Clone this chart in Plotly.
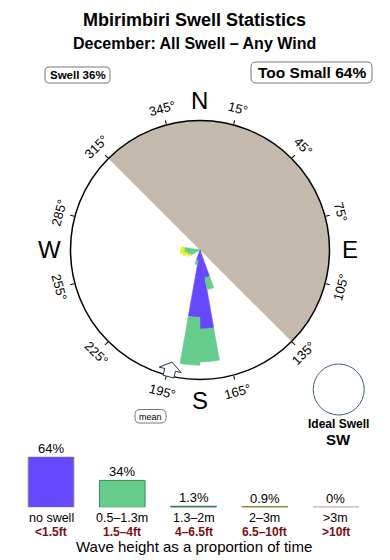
import math
import plotly.graph_objects as go

W, H = 390, 560
FONT = "Liberation Sans, Arial, Helvetica, sans-serif"

# ---------------- data ----------------
title_text = "Mbirimbiri Swell Statistics"
subtitle_text = "December: All Swell – Any Wind"
swell_pct = 36
too_small_pct = 64
ideal_dir = "SW"
mean_dir = 194

rose_dirs = [165, 175, 185, 195, 245, 255, 265, 275]
rose_no_swell = [21.5, 61, 52, 8, 0, 0, 0, 0]
rose_h1 = [9.5, 25.5, 37, 3.5, 8, 10, 11, 12]      # 0.5-1.3m
rose_h2 = [0, 0, 0, 0, 0, 0, 2, 0]                 # 1.3-2m
rose_h3 = [0, 0, 0, 0, 2.5, 3.5, 2.5, 2.5]         # 2-3m
bin_width = 10

too_small_theta = 45
too_small_width = 180

compass_ticks = [15, 45, 75, 105, 135, 165, 195, 225, 255, 285, 315, 345]
cardinal_names = ["N", "E", "S", "W"]
cardinal_dirs = [0, 90, 180, 270]

legend_cats = ["no swell", "0.5–1.3m", "1.3–2m", "2–3m", ">3m"]
legend_feet = ["<1.5ft", "1.5–4ft", "4–6.5ft", "6.5–10ft", ">10ft"]
legend_pct = [64, 34, 1.3, 0.9, 0]
legend_text = ["64%", "34%", "1.3%", "0.9%", "0%"]

# ---------------- styles ----------------
C_BLUE = "#6649ff"
C_GREEN = "#66cc8c"
C_LIME = "#99dd44"
C_YELLOW = "#eeee33"
C_LAND = "#c4b9ad"
legend_fill = [C_BLUE, C_GREEN, "#2e7d4f", "#8c9b3a", "#c9b4b4"]
legend_edge = ["#808080", "#3a8a5a", "#2e7d4f", "#7d8c30", "#c9b4b4"]

CX, CY, R = 200.0, 250.0, 129.5   # compass geometry in pixels
RMAX = 100.0


def X(px):
    return px / W


def Y(py):
    return 1 - py / H


def ann(text, x, y, size, color="black", angle=0, xanchor="center"):
    return dict(x=X(x), y=Y(y), xref="paper", yref="paper", text=text,
                showarrow=False, textangle=angle, xanchor=xanchor, yanchor="middle",
                font=dict(family=FONT, size=size, color=color))


def polar_px(r_px, deg):
    t = math.radians(deg)
    return CX + r_px * math.sin(t), CY - r_px * math.cos(t)


def rounded_rect(x0, y0, x1, y1, r):
    pts = [
        ("M", [(x0 + r, y0)]), ("L", [(x1 - r, y0)]), ("Q", [(x1, y0), (x1, y0 + r)]),
        ("L", [(x1, y1 - r)]), ("Q", [(x1, y1), (x1 - r, y1)]), ("L", [(x0 + r, y1)]),
        ("Q", [(x0, y1), (x0, y1 - r)]), ("L", [(x0, y0 + r)]), ("Q", [(x0, y0), (x0 + r, y0)]),
    ]
    s = ""
    for cmd, ps in pts:
        s += cmd + " " + " ".join(f"{X(a):.5f},{Y(b):.5f}" for a, b in ps) + " "
    return s + "Z"


fig = go.Figure()

# too-small half disc
fig.add_trace(go.Barpolar(r=[RMAX], theta=[too_small_theta], width=[too_small_width],
                          marker=dict(color=C_LAND, line=dict(width=0)),
                          hoverinfo="skip", showlegend=False))
# rose petals (stacked)
for vals, col in [(rose_no_swell, C_BLUE), (rose_h1, C_GREEN), (rose_h2, C_LIME), (rose_h3, C_YELLOW)]:
    fig.add_trace(go.Barpolar(r=vals, theta=rose_dirs, width=[bin_width] * len(rose_dirs),
                              marker=dict(color=col, line=dict(color=col, width=0.5)),
                              hoverinfo="skip", showlegend=False))

# legend bars
fig.add_trace(go.Bar(x=list(range(len(legend_pct))), y=legend_pct, xaxis="x2", yaxis="y2",
                     width=0.64, marker=dict(color=legend_fill, line=dict(color=legend_edge, width=1)),
                     hoverinfo="skip", showlegend=False))

annotations = []
shapes = []

# titles
annotations.append(ann(f"<b>{title_text}</b>", 194, 20, 18))
annotations.append(ann(f"<b>{subtitle_text}</b>", 194, 44, 16))

# swell / too small boxes
shapes.append(dict(type="path", path=rounded_rect(45, 67, 110, 83, 4), xref="paper", yref="paper",
                   line=dict(color="#777", width=1), fillcolor="white", layer="above"))
annotations.append(ann(f"<b>Swell {swell_pct}%</b>", 77.5, 75.5, 11.5))
shapes.append(dict(type="path", path=rounded_rect(251, 62, 372, 83, 5), xref="paper", yref="paper",
                   line=dict(color="#777", width=1), fillcolor="white", layer="above"))
annotations.append(ann(f"<b>Too Small {too_small_pct}%</b>", 311.5, 73, 15.5))

# cardinal letters
for name, d in zip(cardinal_names, cardinal_dirs):
    x, y = polar_px(150, d)
    annotations.append(ann(name, x, y, 24))

# degree labels (tangential)
for d in compass_ticks:
    x, y = polar_px(146, d)
    if d < 90:
        a = d
    elif d < 270:
        a = d - 180
    else:
        a = d - 360
    annotations.append(ann(f"{d}°", x, y, 13, angle=a))

# mean direction arrow (pointing inward)
local = [(115.5, 0), (123.5, 11.3), (123.5, 5.5), (130.5, 5.5), (130.5, -5.5), (123.5, -5.5), (123.5, -11.3)]
t = math.radians(mean_dir)
ux, uy = math.sin(t), -math.cos(t)
vx, vy = math.cos(t), math.sin(t)
pts = [(CX + a * ux + b * vx, CY + a * uy + b * vy) for a, b in local]
path = "M " + " L ".join(f"{X(px):.5f},{Y(py):.5f}" for px, py in pts) + " Z"
shapes.append(dict(type="path", path=path, xref="paper", yref="paper",
                   line=dict(color="#223355", width=1), fillcolor="white", layer="above"))
shapes.append(dict(type="path", path=rounded_rect(135, 409.5, 166, 423, 5), xref="paper", yref="paper",
                   line=dict(color="#777", width=1), fillcolor="white", layer="above"))
annotations.append(ann("mean", 150.5, 416.5, 9))

# ideal swell
icx, icy, ir = 338.7, 389.5, 25.5
shapes.append(dict(type="circle", xref="paper", yref="paper", x0=X(icx - ir), x1=X(icx + ir),
                   y0=Y(icy + ir), y1=Y(icy - ir), line=dict(color="#3d5a80", width=1)))
annotations.append(ann("<b>Ideal Swell</b>", 338.5, 423.5, 12))
annotations.append(ann(f"<b>{ideal_dir}</b>", 338.5, 439, 15))

# legend labels
for i, (cat, ft, txt, v) in enumerate(zip(legend_cats, legend_feet, legend_text, legend_pct)):
    annotations.append(dict(x=i, y=v, xref="x2", yref="y2", text=txt, showarrow=False,
                            xanchor="center", yanchor="bottom", yshift=-1,
                            font=dict(family=FONT, size=13, color="black")))
    annotations.append(dict(x=i, y=Y(518), xref="x2", yref="paper", text=cat, showarrow=False,
                            xanchor="center", yanchor="middle",
                            font=dict(family=FONT, size=12.5, color="black")))
    annotations.append(dict(x=i, y=Y(531.5), xref="x2", yref="paper", text=f"<b>{ft}</b>", showarrow=False,
                            xanchor="center", yanchor="middle",
                            font=dict(family=FONT, size=12, color="#7a1010")))
    if v < 2:
        shapes.append(dict(type="line", xref="x2", yref="y2", x0=i - 0.32, x1=i + 0.32, y0=0, y1=0,
                           line=dict(color=legend_edge[i], width=2)))
annotations.append(ann("Wave height as a proportion of time", 194, 546.5, 15))

fig.update_layout(
    width=W, height=H, margin=dict(l=0, r=0, t=0, b=0),
    paper_bgcolor="white", plot_bgcolor="rgba(0,0,0,0)",
    showlegend=False,
    polar=dict(
        domain=dict(x=[X(CX - R), X(CX + R)], y=[Y(CY + R), Y(CY - R)]),
        bgcolor="white", barmode="stack", bargap=0,
        radialaxis=dict(visible=False, range=[0, RMAX]),
        angularaxis=dict(rotation=90, direction="clockwise", tickmode="array", tickvals=compass_ticks,
                         ticks="outside", ticklen=4, tickcolor="black", tickwidth=1,
                         showticklabels=False, showgrid=False, linecolor="black", linewidth=1.5),
    ),
    xaxis2=dict(domain=[15.4 / W, 371.6 / W], range=[-0.5, 4.5], visible=False, fixedrange=True),
    yaxis2=dict(domain=[Y(507.3), Y(456.7)], range=[0, 64], visible=False, fixedrange=True),
    annotations=annotations, shapes=shapes,
)

fig.write_html("out.html")
